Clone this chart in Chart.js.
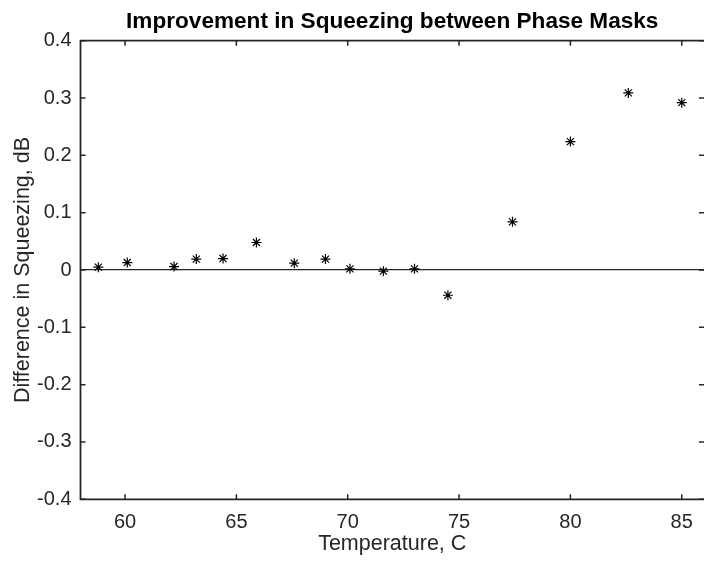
<!DOCTYPE html>
<html>
<head>
<meta charset="utf-8">
<title>Improvement in Squeezing between Phase Masks</title>
<script src="https://cdn.jsdelivr.net/npm/chart.js@4"></script>
<style>
  html, body { margin: 0; padding: 0; background: #fff; }
  canvas { display: block; }
</style>
</head>
<body>
<canvas id="chart" width="704" height="563"></canvas>
<script>
// values
const temperatures = [58.8, 60.1, 62.2, 63.2, 64.4, 65.9, 67.6, 69.0, 70.1, 71.6, 73.0, 74.5, 77.4, 80.0, 82.6, 85.0];
const squeezingDiff = [0.005, 0.013, 0.006, 0.019, 0.020, 0.048, 0.012, 0.019, 0.002, -0.002, 0.002, -0.044, 0.084, 0.224, 0.309, 0.292];
const xTicks = [60, 65, 70, 75, 80, 85];
const yTicks = [-0.4, -0.3, -0.2, -0.1, 0, 0.1, 0.2, 0.3, 0.4];

const axisColor = "#262626";
const font = "'Liberation Sans', Arial, Helvetica, sans-serif";

// MATLAB-like box with inward ticks
const axesBox = {
  id: "axesBox",
  afterDatasetsDraw(chart) {
    const { ctx, chartArea: a, scales: { x, y } } = chart;
    const len = 5;
    ctx.save();
    ctx.strokeStyle = axisColor;
    ctx.lineWidth = 1.8;
    ctx.beginPath();
    ctx.moveTo(a.right + 2, a.top);
    ctx.lineTo(a.left, a.top);
    ctx.lineTo(a.left, a.bottom);
    ctx.lineTo(a.right + 2, a.bottom);
    ctx.stroke();
    ctx.lineWidth = 1.5;
    ctx.beginPath();
    xTicks.forEach(v => {
      const px = x.getPixelForValue(v);
      ctx.moveTo(px, a.bottom); ctx.lineTo(px, a.bottom - len);
      ctx.moveTo(px, a.top); ctx.lineTo(px, a.top + len);
    });
    yTicks.forEach(v => {
      const py = y.getPixelForValue(v);
      ctx.moveTo(a.left, py); ctx.lineTo(a.left + len, py);
      ctx.moveTo(a.right, py); ctx.lineTo(a.right - len, py);
    });
    ctx.stroke();
    ctx.restore();
  }
};

new Chart(document.getElementById("chart"), {
  type: "scatter",
  data: {
    datasets: [{
      data: temperatures.map((t, i) => ({ x: t, y: squeezingDiff[i] })),
      pointStyle: "star",
      pointRadius: 5,
      pointBorderWidth: 1.2,
      borderColor: "#000",
      backgroundColor: "#000"
    }]
  },
  options: {
    responsive: false,
    animation: false,
    layout: { padding: 0, autoPadding: false },
    plugins: {
      legend: { display: false },
      tooltip: { enabled: false },
      title: {
        display: true,
        fullSize: false,
        text: "Improvement in Squeezing between Phase Masks",
        color: "#000",
        font: { family: font, size: 22.6, weight: "bold" },
        padding: { top: 7.8, bottom: 5.8 }
      }
    },
    scales: {
      x: {
        type: "linear",
        min: 58,
        max: 86,
        afterBuildTicks: s => { s.ticks = xTicks.map(v => ({ value: v })); },
        afterFit: s => { s.height = 63.7; s.paddingLeft = 0; s.paddingRight = 0; },
        grid: { display: false, drawTicks: false },
        border: { display: false },
        ticks: {
          autoSkip: false,
          padding: 11,
          color: axisColor,
          font: { family: font, size: 20 }
        },
        title: {
          display: true,
          text: "Temperature, C",
          color: axisColor,
          font: { family: font, size: 21.5 },
          padding: { top: 0, bottom: 6.5 }
        }
      },
      y: {
        min: -0.4,
        max: 0.4,
        afterBuildTicks: s => { s.ticks = yTicks.map(v => ({ value: v })); },
        afterFit: s => { s.width = 80.5; s.paddingTop = 0; s.paddingBottom = 0; },
        grid: {
          drawTicks: false,
          color: c => (c.tick && Math.abs(c.tick.value) < 1e-9 ? axisColor : "transparent"),
          lineWidth: 1.2
        },
        border: { display: false },
        ticks: {
          autoSkip: false,
          padding: 9,
          color: axisColor,
          font: { family: font, size: 20 },
          callback: v => String(Number(v.toFixed(1)))
        },
        title: {
          display: true,
          text: "Difference in Squeezing, dB",
          color: axisColor,
          font: { family: font, size: 21.5 },
          padding: { top: 10, bottom: 0 }
        }
      }
    }
  },
  plugins: [axesBox]
});
</script>
</body>
</html>
